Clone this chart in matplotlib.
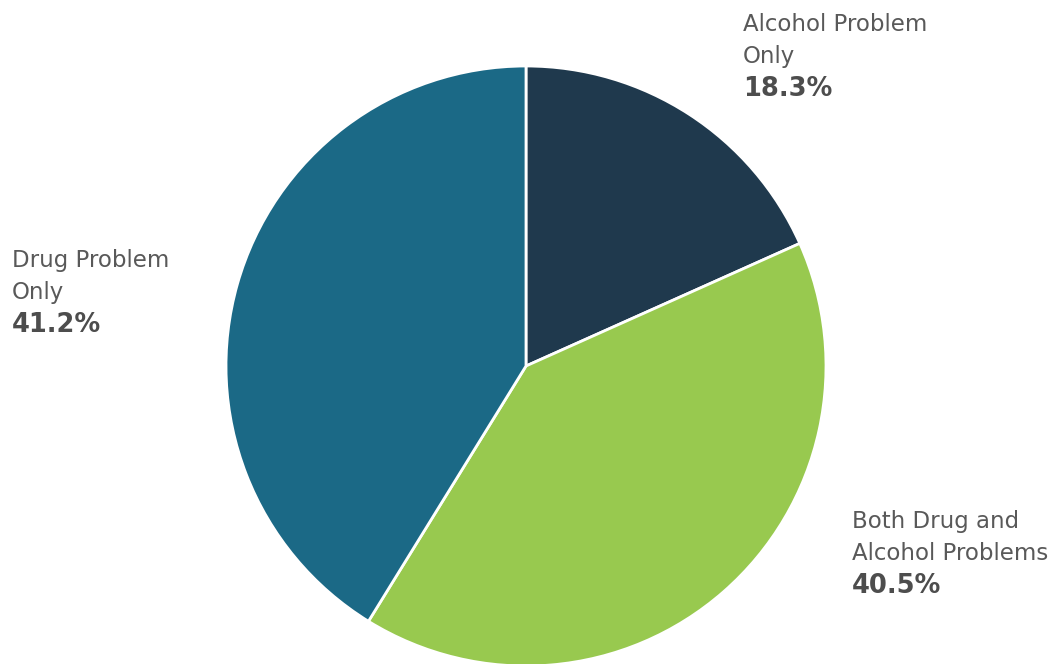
import matplotlib.pyplot as plt

labels = ['Alcohol Problem\nOnly', 'Both Drug and\nAlcohol Problems', 'Drug Problem\nOnly']
values = [18.3, 40.5, 41.2]
colors = ['#1f394d', '#98c94f', '#1b6986']
# label anchor (left x, first line center y) in pixels from top-left
label_pos = [(743, 22), (852, 519), (12, 258)]

W, H = 1056, 664
fig = plt.figure(figsize=(W / 100, H / 100), dpi=100)
ax = fig.add_axes([0, 0, 1, 1])

ax.pie(values, colors=colors, startangle=90, counterclock=False,
       center=(526, H - 366), radius=300,
       wedgeprops=dict(edgecolor='white', linewidth=2))
ax.set_xlim(0, W)
ax.set_ylim(0, H)
ax.axis('off')

fs = 16.5
step = 32
for lab, v, (x, y) in zip(labels, values, label_pos):
    lines = lab.split('\n')
    for i, ln in enumerate(lines):
        ax.text(x, H - y - i * step, ln, fontsize=fs, color='#595959',
                va='center_baseline', ha='left')
    ax.text(x, H - y - len(lines) * step, f'{v:.1f}%', fontsize=18.5,
            color='#4d4d4d', fontweight='bold', va='center_baseline', ha='left')

fig.savefig('out.png', dpi=100)
